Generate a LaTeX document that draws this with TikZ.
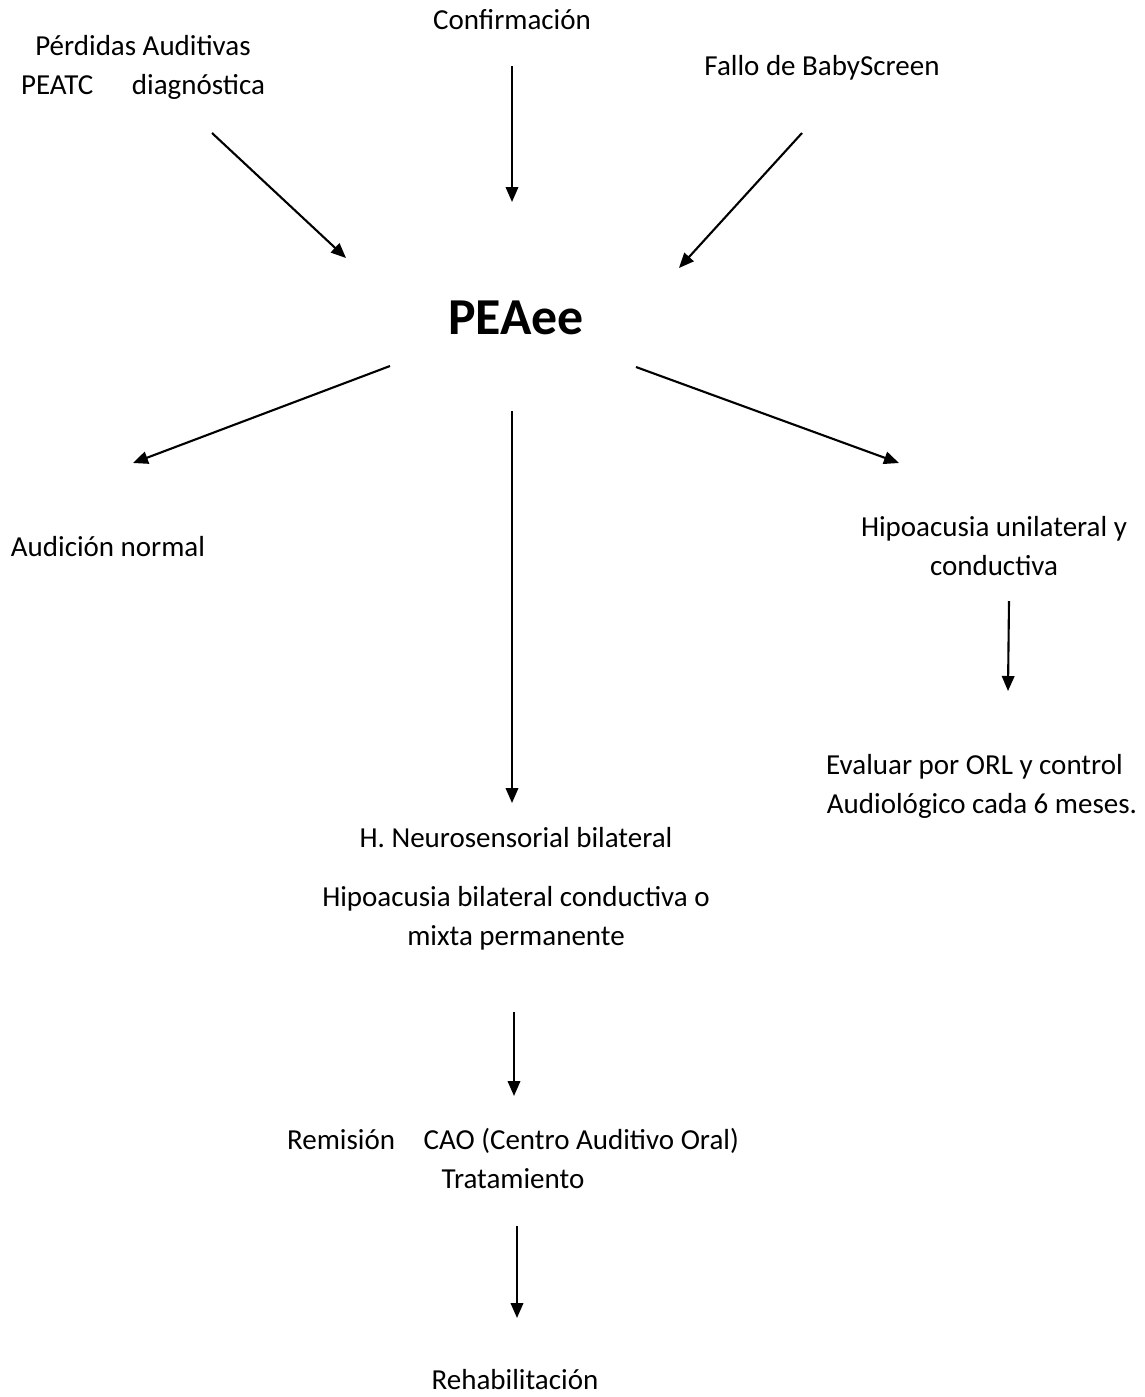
\documentclass[tikz,border=0pt]{standalone}
\usepackage{fontspec}
\setmainfont{Carlito}
\usetikzlibrary{arrows.meta}

\begin{document}
\begin{tikzpicture}[x=0.02cm, y=-0.02cm,
  lbl/.style={anchor=base, inner sep=0pt, align=center,
    font=\fontsize{16.5pt}{21.9pt}\selectfont},
  title/.style={anchor=base, inner sep=0pt,
    font=\fontsize{29.5pt}{35pt}\selectfont\bfseries},
  flow/.style={line width=1.2pt, -{Triangle[length=0.3cm, width=0.25cm]}}]

\useasboundingbox (0,0) rectangle (1144,1397);

% text blocks (positioned at the baseline of their last line)
\node[lbl] (confirm) at (512,29) {Confirmación};
\node[lbl] (perdidas) at (143,94) {Pérdidas Auditivas\\PEATC\hspace{0.64cm} diagnóstica};
\node[lbl] (fallo) at (822,75) {Fallo de BabyScreen};
\node[title] (peaee) at (516,334) {PEAee};
\node[lbl] (normal) at (108,556) {Audición normal};
\node[lbl] (unilat) at (994,575) {Hipoacusia unilateral y\\conductiva};
\node[lbl] (orl) at (982,813) {Evaluar por ORL y control\hspace*{0.3cm}\\Audiológico cada 6 meses.};
\node[lbl] (neuro) at (516,847) {H. Neurosensorial bilateral};
\node[lbl] (bilat) at (516,945) {Hipoacusia bilateral conductiva o\\mixta permanente};
\node[lbl] (cao) at (513,1188) {Remisión\hspace{0.44cm} CAO (Centro Auditivo Oral)\\Tratamiento};
\node[lbl] (rehab) at (515,1389) {Rehabilitación};

% arrow end points
\coordinate (a1s) at (212,133);  \coordinate (a1e) at (346,258);
\coordinate (a2s) at (512,66);   \coordinate (a2e) at (512,202);
\coordinate (a3s) at (802,133);  \coordinate (a3e) at (679,268);
\coordinate (a4s) at (390,366);  \coordinate (a4e) at (133,463);
\coordinate (a5s) at (512,411);  \coordinate (a5e) at (512,803);
\coordinate (a6s) at (636,367);  \coordinate (a6e) at (899,463);
\coordinate (a7s) at (1009,601); \coordinate (a7e) at (1008,691);
\coordinate (a8s) at (514,1012); \coordinate (a8e) at (514,1096);
\coordinate (a9s) at (517,1226); \coordinate (a9e) at (517,1318);

% connectors
\draw[flow] (a1s) -- (a1e);
\draw[flow] (a2s) -- (a2e);
\draw[flow] (a3s) -- (a3e);
\draw[flow] (a4s) -- (a4e);
\draw[flow] (a5s) -- (a5e);
\draw[flow] (a6s) -- (a6e);
\draw[flow] (a7s) -- (a7e);
\draw[flow] (a8s) -- (a8e);
\draw[flow] (a9s) -- (a9e);
\end{tikzpicture}
\end{document}
